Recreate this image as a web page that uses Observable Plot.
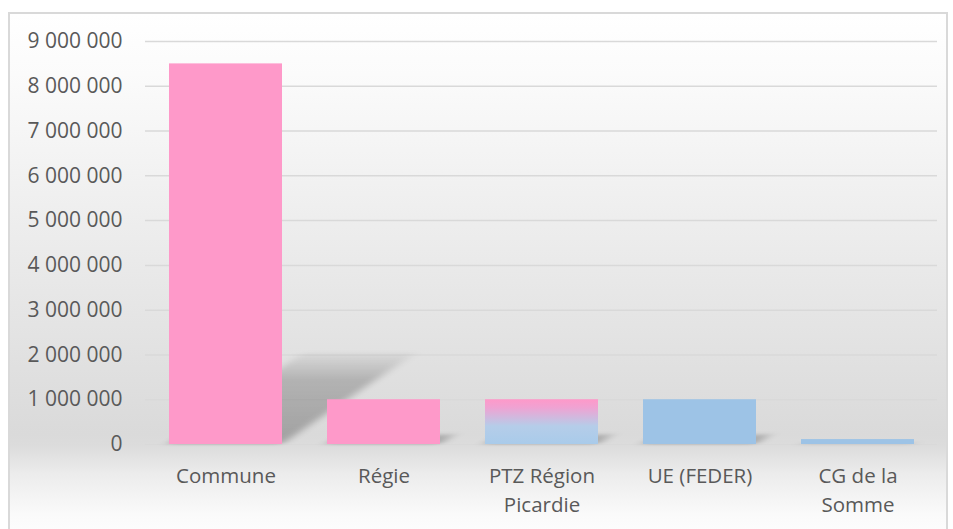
<!DOCTYPE html>
<html>
<head>
<meta charset="utf-8">
<script src="https://cdn.jsdelivr.net/npm/d3@7"></script>
<script src="https://cdn.jsdelivr.net/npm/@observablehq/plot@0.6"></script>
<style>
  html, body { margin: 0; padding: 0; background: #ffffff; }
  #wrap { position: relative; width: 953px; height: 529px; overflow: hidden; }
  #panel {
    position: absolute; left: 8px; top: 12px; width: 940px; height: 530px;
    border: 2px solid #d9d9d9; box-sizing: border-box;
    background: linear-gradient(to bottom, #ffffff 0px, #fbfbfb 60px, #dadada 420px, #dcdcdc 432px, #ececec 460px, #fafafa 500px, #ffffff 530px);
  }
  #chart { position: absolute; left: 0; top: 0; }
</style>
</head>
<body>
<div id="wrap"><div id="panel"></div><div id="chart"></div></div>
<script>
const categories = ["Commune", "Régie", "PTZ Région Picardie", "UE (FEDER)", "CG de la Somme"];
const values = [8500000, 1000000, 1000000, 1000000, 110000];
const categoryLabels = ["Commune", "Régie", "PTZ Région\nPicardie", "UE (FEDER)", "CG de la\nSomme"];
const fills = ["url(#pinkFill)", "url(#pinkFill)", "url(#mixFill)", "url(#blueFill)", "url(#blueFill)"];
const yTicks = [0, 1000000, 2000000, 3000000, 4000000, 5000000, 6000000, 7000000, 8000000, 9000000];

const data = categories.map((c, i) => ({cat: c, value: values[i], fill: fills[i], label: categoryLabels[i]}));
const labelOf = new Map(data.map(d => [d.cat, d.label]));
const fmt = v => d3.format(",")(v).replace(/,/g, " ");

const font = "'Open Sans', sans-serif";

const chart = Plot.plot({
  width: 953,
  height: 529,
  marginLeft: 145,
  marginRight: 16,
  marginTop: 41,
  marginBottom: 85,
  style: {background: "transparent", fontFamily: font, color: "#595959", overflow: "visible"},
  x: {domain: categories, paddingInner: 0.285, paddingOuter: 0.1425, label: null},
  y: {domain: [0, 9000000], label: null},
  marks: [
    Plot.gridY(yTicks, {stroke: "#d9d9d9", strokeOpacity: 1, strokeWidth: 1.5}),
    Plot.barY(data, {
      x: "cat", y: "value", fill: "url(#shadowFill)",
      render(index, scales, values, dims, context, next) {
        const g = next(index, scales, values, dims, context);
        const y0 = scales.y(0);
        g.setAttribute("transform", `translate(0,${y0}) matrix(1,0,-0.35,0.24,0,0) translate(0,${-y0})`);
        g.setAttribute("filter", "url(#blurShadow)");
        return g;
      }
    }),
    Plot.barY(data, {x: "cat", y: "value", fill: "fill"}),
    Plot.axisY(yTicks, {tickSize: 0, tickPadding: 23, tickFormat: fmt, fontSize: 21, fill: "#595959", label: null}),
    Plot.axisX({tickSize: 0, tickPadding: 18, tickFormat: d => labelOf.get(d), fontSize: 20.5, lineHeight: 1.42, fill: "#595959", label: null})
  ]
});

const svg = d3.select(chart);
const defs = svg.insert("defs", ":first-child");
const pink = defs.append("linearGradient").attr("id", "pinkFill").attr("x1", 0).attr("y1", 0).attr("x2", 0).attr("y2", 1);
pink.append("stop").attr("offset", "0%").attr("stop-color", "#fe99c9");
pink.append("stop").attr("offset", "100%").attr("stop-color", "#fe99c9");
const blue = defs.append("linearGradient").attr("id", "blueFill").attr("x1", 0).attr("y1", 0).attr("x2", 0).attr("y2", 1);
blue.append("stop").attr("offset", "0%").attr("stop-color", "#9dc3e6");
blue.append("stop").attr("offset", "100%").attr("stop-color", "#9dc3e6");
const mix = defs.append("linearGradient").attr("id", "mixFill").attr("x1", 0).attr("y1", 0).attr("x2", 0).attr("y2", 1);
mix.append("stop").attr("offset", "0%").attr("stop-color", "#fe99c9");
mix.append("stop").attr("offset", "18%").attr("stop-color", "#f0a2d2");
mix.append("stop").attr("offset", "60%").attr("stop-color", "#b5cde9");
mix.append("stop").attr("offset", "100%").attr("stop-color", "#a9cbea");
const sh = defs.append("linearGradient").attr("id", "shadowFill").attr("x1", 0).attr("y1", 1).attr("x2", 0).attr("y2", 0);
sh.append("stop").attr("offset", "0%").attr("stop-color", "#000000").attr("stop-opacity", 0.26);
sh.append("stop").attr("offset", "70%").attr("stop-color", "#000000").attr("stop-opacity", 0.2);
sh.append("stop").attr("offset", "100%").attr("stop-color", "#000000").attr("stop-opacity", 0.03);
const blur = defs.append("filter").attr("id", "blurShadow").attr("x", "-30%").attr("y", "-30%").attr("width", "160%").attr("height", "160%");
blur.append("feGaussianBlur").attr("stdDeviation", 6);

document.getElementById("chart").appendChild(chart);
</script>
</body>
</html>
